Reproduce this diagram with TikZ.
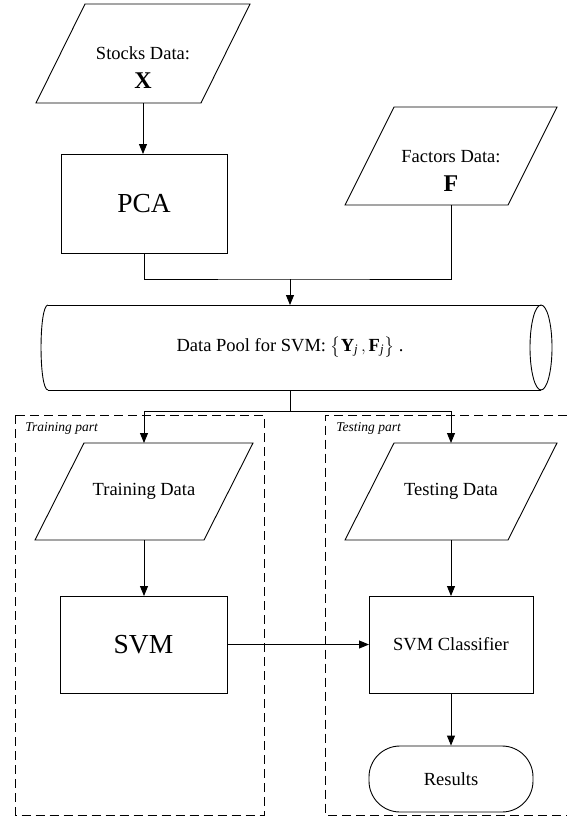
\documentclass[tikz,border=0pt]{standalone}
\usepackage{fontspec}
\setmainfont{Liberation Serif}
\usepackage{amsmath}
\usetikzlibrary{arrows.meta}
\begin{document}
\begin{tikzpicture}[x=1pt,y=-1pt,
  line width=0.9pt,
  >={Triangle[length=10pt,width=8pt]},
  txt/.style={font=\fontsize{18.5}{22}\selectfont},
  bigtxt/.style={font=\fontsize{27.5}{32}\selectfont},
  lbl/.style={font=\itshape\fontsize{13.5}{16}\selectfont, inner sep=0pt, anchor=west},
  para/.style={minimum width=#1, minimum height=97pt, inner sep=0pt, outer sep=0pt},
  procbox/.style={draw, minimum width=#1, minimum height=97pt, inner sep=0pt, outer sep=0pt},
  dashbox/.style={dash pattern=on 9pt off 5pt, line width=0.8pt}
]
\useasboundingbox (0,0) rectangle (567,819);

% input parallelograms
\node[para=214pt, minimum height=99pt] (stocks) at (143,53.5) {};
\node[txt, align=center, inner sep=0pt] (stockstxt) at (143,68) {Stocks Data:\\[7pt]{\fontsize{24}{27}\selectfont\textbf{X}}};
\node[para=212pt, minimum height=98pt] (factors) at (451,156) {};
\node[txt, align=center, inner sep=0pt] (factorstxt) at (451,171) {Factors Data:\\[7pt]{\fontsize{24}{27}\selectfont\textbf{F}}};

\node[procbox=166pt, minimum height=99pt, bigtxt] (pca) at (144,203.5) {PCA};

% data pool cylinder
\node[minimum width=493pt, minimum height=85pt, inner sep=0pt, outer sep=0pt] (pool) at (294.5,347.5) {};
\draw (pool.north west) -- (pool.north east) (pool.south west) -- (pool.south east);
\draw (pool.north west) .. controls +(-9.3pt,0) and +(-9.3pt,0) .. (pool.south west);
\draw (pool.east) ellipse [x radius=11pt, y radius=42.5pt];
\node[txt] (pooltxt) at (290,347) {Data Pool for SVM: $\big\{\textbf{Y}_{\text{\itshape j}}\,,\textbf{F}_{\text{\itshape j}}\big\}$ .};

% dashed parts
\draw[dashbox] (15.5,415) rectangle (264,815);
\draw[dashbox] (567,415) -- (325.5,415) -- (325.5,815) -- (567,815);
\node[lbl] (trainlbl) at (25,428) {Training part};
\node[lbl] (testlbl) at (336,428) {Testing part};

\node[para=218pt] (train) at (144,491.5) {};
\node[txt] (traintxt) at (144,491) {Training Data};
\node[para=212pt] (test) at (451,491.5) {};
\node[txt] (testtxt) at (451,491) {Testing Data};

\foreach \n in {stocks,factors,train,test}
  \draw ([xshift=49pt]\n.north west) -- (\n.north east) -- ([xshift=-49pt]\n.south east) -- (\n.south west) -- cycle;

\node[procbox=167pt, bigtxt] (svm) at (143.5,644.5) {SVM};
\node[procbox=164pt, txt] (clf) at (451,644.5) {SVM Classifier};
\node[draw, rounded corners=31pt, minimum width=164pt, minimum height=66pt, inner sep=0pt, txt] (res) at (451,779) {Results};

% connectors
\coordinate (j1) at (290,279);
\coordinate (j2) at (290,411);
\draw[->] (stocks.south) -- (stocks.south |- pca.north);
\draw (pca.south) |- (j1) -| (factors.south);
\draw[->] (j1) -- (j1 |- pool.north);
\draw (j2 |- pool.south) -- (j2);
\draw[->] (j2) -| (train.north);
\draw[->] (j2) -| (test.north);
\draw[->] (train.south) -- (train.south |- svm.north);
\draw[->] (test.south) -- (clf.north);
\draw[->] (svm.east) -- (clf.west);
\draw[->] (clf.south) -- (res.north);
\end{tikzpicture}
\end{document}
